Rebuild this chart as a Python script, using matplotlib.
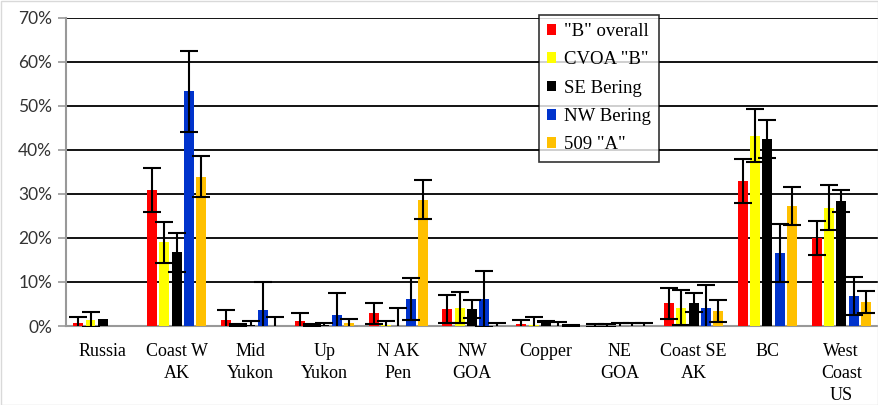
import matplotlib.pyplot as plt
import numpy as np

# Categorias y series (porcentajes)
categorias = ["Russia", "Coast W\nAK", "Mid\nYukon", "Up\nYukon", "N AK\nPen", "NW\nGOA",
              "Copper", "NE\nGOA", "Coast SE\nAK", "BC", "West\nCoast\nUS"]

b_overall = [0.7, 31.0, 1.3, 1.1, 2.9, 3.9, 0.4, 0.1, 5.2, 33.0, 20.0]
b_overall_err = [1.3, 5.0, 2.4, 1.8, 2.4, 3.1, 1.0, 0.4, 3.5, 5.0, 3.9]

cvoa_b = [1.4, 19.0, 0.2, 0.2, 0.2, 4.2, 0.3, 0.1, 4.2, 43.2, 26.9]
cvoa_b_err = [1.7, 4.6, 0.3, 0.3, 1.0, 3.6, 1.7, 0.4, 4.0, 6.0, 5.1]

se_bering = [1.7, 16.7, 0.2, 0.2, 0.1, 3.9, 1.1, 0.1, 5.3, 42.4, 28.4]
se_bering_err = [0.0, 4.4, 1.0, 0.6, 4.1, 2.0, 0.1, 0.6, 2.1, 4.3, 2.5]

nw_bering = [0.0, 53.3, 3.6, 2.6, 6.1, 6.1, 0.1, 0.1, 4.0, 16.6, 6.9]
nw_bering_err = [0.0, 9.2, 6.4, 4.8, 4.7, 6.3, 0.9, 0.7, 5.4, 6.6, 4.3]

a509 = [0.0, 33.9, 0.1, 0.6, 28.7, 0.1, 0.1, 0.1, 3.4, 27.3, 5.4]
a509_err = [0.0, 4.7, 1.9, 1.1, 4.5, 0.5, 0.1, 0.7, 2.5, 4.3, 2.5]

series = [
    ('"B" overall', b_overall, b_overall_err, '#FF0000'),
    ('CVOA "B"', cvoa_b, cvoa_b_err, '#FFFF00'),
    ('SE Bering', se_bering, se_bering_err, '#000000'),
    ('NW Bering', nw_bering, nw_bering_err, '#0033CC'),
    ('509 "A"', a509, a509_err, '#FFC000'),
]

fig = plt.figure(figsize=(8.79, 4.05), dpi=100)
ax = fig.add_axes([0.075, 0.195, 0.924, 0.761])

x = np.arange(len(categorias))
paso = 0.167
ancho = 0.135

for i, (nombre, vals, errs, color) in enumerate(series):
    pos = x + (i - 2) * paso
    vals = np.array(vals)
    errs = np.array(errs)
    ax.bar(pos, vals, ancho, color=color, label=nombre, zorder=3)
    m = errs > 0
    ax.errorbar(pos[m], vals[m], yerr=errs[m], fmt='none', ecolor='black',
                elinewidth=1.5, capsize=6.5, capthick=1.5, zorder=4)

ax.set_xlim(-0.5, len(categorias) - 0.5)
ax.set_ylim(0, 70)
ax.set_yticks(np.arange(0, 71, 10))
ax.set_yticklabels([f"{v}%" for v in range(0, 71, 10)], fontfamily='Lato', fontsize=12.5,
                   color='#333333')
ax.set_xticks(x)
ax.set_xticklabels(categorias, fontfamily='Liberation Serif', fontsize=13, linespacing=1.38)
ax.tick_params(axis='x', length=0, pad=12)
ax.tick_params(axis='y', length=6, color='#999999', width=1.2, pad=4)

ax.yaxis.grid(True, color='black', linewidth=1.3, zorder=0)
ax.set_axisbelow(True)
for s in ['top', 'right']:
    ax.spines[s].set_visible(False)
ax.spines['left'].set_color('#999999')
ax.spines['left'].set_linewidth(1.5)
ax.spines['bottom'].set_color('#999999')
ax.spines['bottom'].set_linewidth(1.5)

leg = ax.legend(loc='upper left', bbox_to_anchor=(0.582, 1.01), frameon=True, fancybox=False,
                prop={'family': 'Liberation Serif', 'size': 13.5}, handlelength=0.5,
                handleheight=0.5, handletextpad=0.4, labelspacing=0.6, borderpad=0.45,
                borderaxespad=0)
leg.get_frame().set_edgecolor('black')
leg.get_frame().set_linewidth(1.2)
leg.set_zorder(5)

# borde gris claro del grafico
fig.patches.append(plt.Rectangle((0.001, 0.001), 0.998, 0.997, transform=fig.transFigure,
                                 fill=False, edgecolor='#d9d9d9', linewidth=1))

fig.savefig("out.png", dpi=100)
